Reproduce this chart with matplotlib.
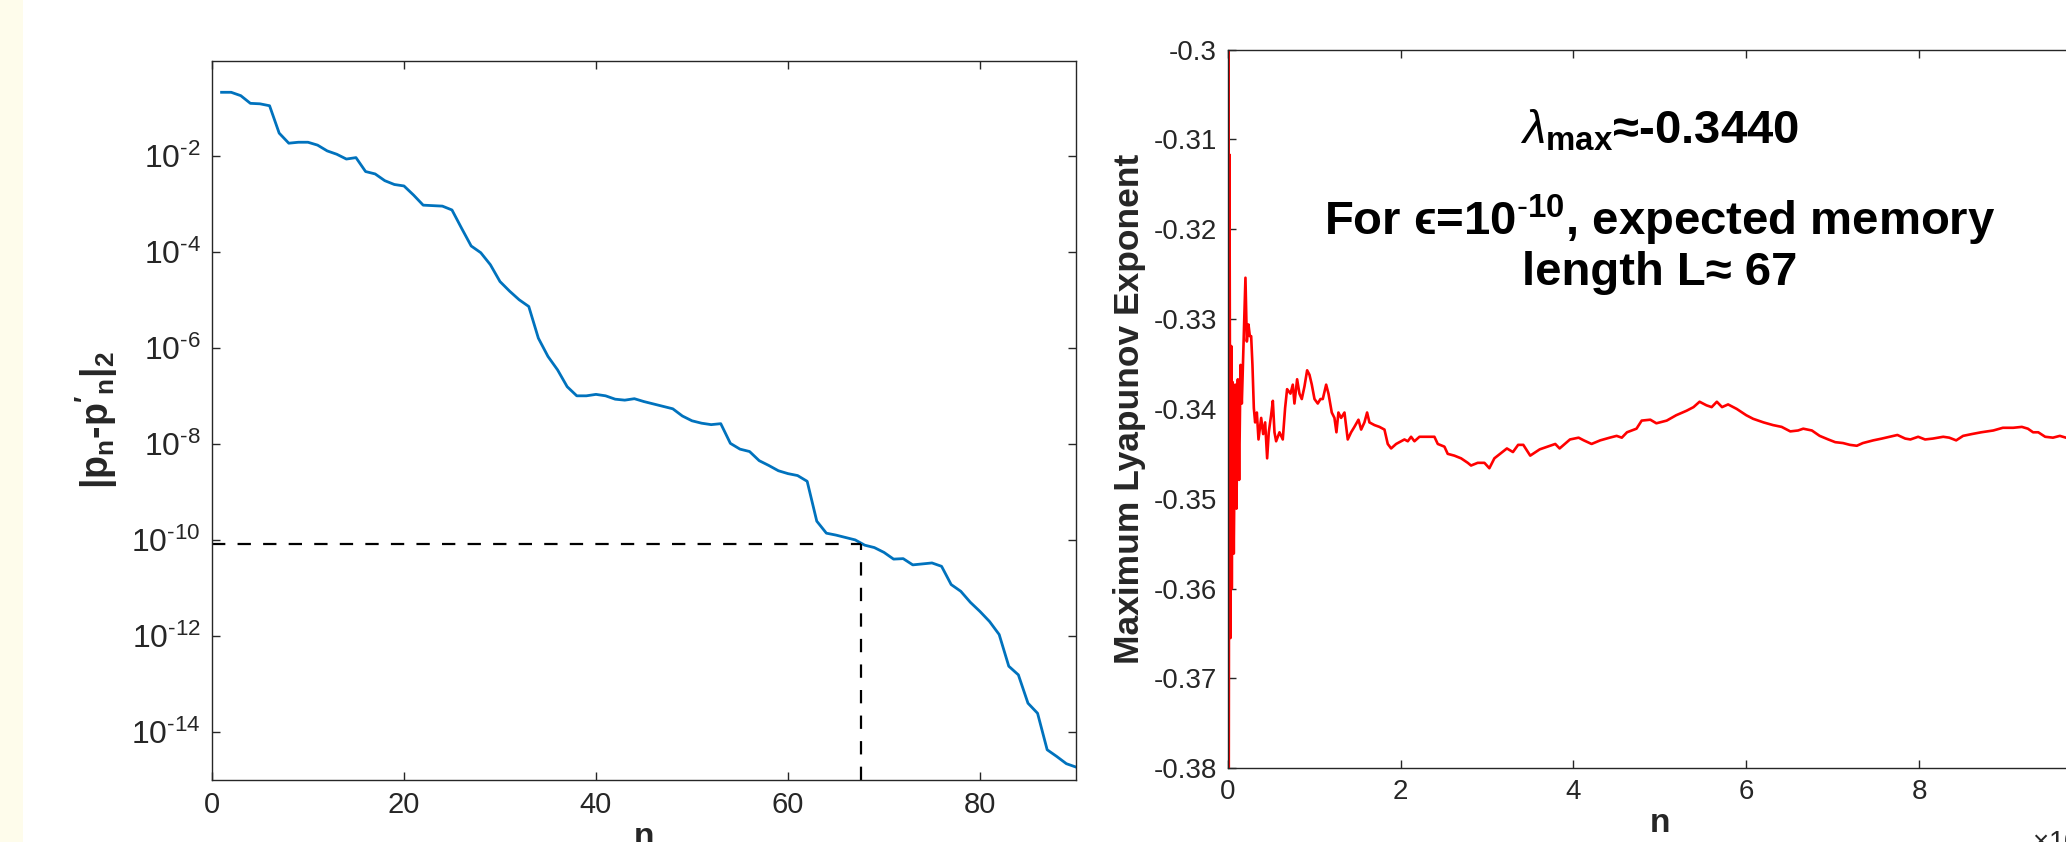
import numpy as np
import matplotlib
matplotlib.use("Agg")
import matplotlib.pyplot as plt
from matplotlib.ticker import FixedLocator, FuncFormatter, NullLocator
from matplotlib.patches import Rectangle

plt.rcParams['font.family'] = ['Liberation Sans', 'DejaVu Sans']
plt.rcParams['mathtext.fontset'] = 'custom'
plt.rcParams['mathtext.rm'] = 'Liberation Sans'
plt.rcParams['mathtext.it'] = 'Liberation Sans:italic'
plt.rcParams['mathtext.bf'] = 'Liberation Sans:bold'
plt.rcParams['axes.unicode_minus'] = False

# left panel: distance between the two trajectories (log10 of the norm)
err_n = list(range(1, 91))
err_log10 = [-0.68, -0.68, -0.75, -0.91, -0.92, -0.96, -1.53, -1.74, -1.72, -1.72,
             -1.78, -1.90, -1.97, -2.07, -2.04, -2.33, -2.38, -2.52, -2.60, -2.63,
             -2.82, -3.03, -3.04, -3.05, -3.13, -3.51, -3.88, -4.02, -4.27, -4.62,
             -4.82, -5.00, -5.14, -5.80, -6.18, -6.46, -6.81, -7.00, -7.00, -6.97,
             -7.00, -7.07, -7.09, -7.06, -7.12, -7.17, -7.22, -7.27, -7.42, -7.52,
             -7.57, -7.60, -7.58, -7.99, -8.11, -8.16, -8.35, -8.45, -8.56, -8.62,
             -8.66, -8.78, -9.61, -9.86, -9.90, -9.95, -10.00, -10.11, -10.16, -10.26,
             -10.40, -10.39, -10.52, -10.50, -10.48, -10.55, -10.93, -11.07, -11.30, -11.49,
             -11.70, -11.97, -12.63, -12.81, -13.40, -13.61, -14.37, -14.51, -14.66, -14.73]
eps_level = 8.1e-11
mem_len = 67.6

# right panel: running estimate of the max Lyapunov exponent (n in units of 1e4)
lyap_n = [0.000, 0.004, 0.010, 0.019, 0.031, 0.040, 0.046, 0.055, 0.069, 0.085,
          0.100, 0.116, 0.131, 0.147, 0.162, 0.185, 0.204, 0.220, 0.239, 0.255,
          0.270, 0.285, 0.301, 0.316, 0.336, 0.355, 0.386, 0.409, 0.432, 0.455,
          0.474, 0.501, 0.521, 0.540, 0.559, 0.598, 0.636, 0.663, 0.686, 0.725,
          0.752, 0.771, 0.802, 0.829, 0.856, 0.887, 0.918, 0.945, 0.972, 1.003,
          1.041, 1.072, 1.099, 1.138, 1.165, 1.203, 1.234, 1.257, 1.280, 1.311,
          1.350, 1.388, 1.427, 1.465, 1.512, 1.543, 1.581, 1.612, 1.639, 1.697,
          1.755, 1.813, 1.851, 1.890, 1.948, 2.005, 2.044, 2.083, 2.121, 2.160,
          2.218, 2.275, 2.391, 2.430, 2.507, 2.545, 2.622, 2.700, 2.777, 2.815,
          2.892, 2.970, 3.027, 3.085, 3.23, 3.30, 3.36, 3.42, 3.50, 3.61,
          3.73, 3.79, 3.84, 3.96, 4.06, 4.12, 4.21, 4.31, 4.42, 4.50,
          4.56, 4.62, 4.73, 4.79, 4.89, 4.96, 5.08, 5.19, 5.31, 5.39,
          5.46, 5.54, 5.60, 5.66, 5.72, 5.79, 5.89, 6.00, 6.08, 6.20,
          6.31, 6.41, 6.51, 6.60, 6.66, 6.76, 6.85, 6.95, 7.03, 7.12,
          7.20, 7.28, 7.35, 7.47, 7.57, 7.66, 7.75, 7.84, 7.90, 7.99,
          8.07, 8.16, 8.28, 8.35, 8.43, 8.51, 8.61, 8.72, 8.86, 8.97,
          9.09, 9.19, 9.26, 9.32, 9.38, 9.46, 9.55, 9.63, 9.70, 10.0]
lyap_val = [-0.420, -0.290, -0.390, -0.3117, -0.3655, -0.3330, -0.3600, -0.3370, -0.3561, -0.3373,
            -0.3511, -0.3367, -0.3479, -0.3351, -0.3394, -0.3319, -0.3254, -0.3325, -0.3306, -0.3319,
            -0.3319, -0.3351, -0.3399, -0.3415, -0.3404, -0.3434, -0.3410, -0.3428, -0.3415, -0.3455,
            -0.3426, -0.3407, -0.3391, -0.3426, -0.3436, -0.3426, -0.3434, -0.3399, -0.3378, -0.3383,
            -0.3373, -0.3394, -0.3367, -0.3383, -0.3389, -0.3375, -0.3357, -0.3362, -0.3373, -0.3389,
            -0.3394, -0.3389, -0.3389, -0.3373, -0.3383, -0.3404, -0.3410, -0.3426, -0.3404, -0.3410,
            -0.3404, -0.3434, -0.3426, -0.3420, -0.3412, -0.3423, -0.3415, -0.3404, -0.3415, -0.3418,
            -0.3420, -0.3423, -0.3439, -0.3444, -0.3439, -0.3436, -0.3434, -0.3436, -0.3431, -0.3436,
            -0.3431, -0.3431, -0.3431, -0.3439, -0.3442, -0.3450, -0.3452, -0.3455, -0.3460, -0.3463,
            -0.3460, -0.3460, -0.3466, -0.3455, -0.3444, -0.3448, -0.3440, -0.3440, -0.3452, -0.3445,
            -0.3441, -0.3439, -0.3444, -0.3434, -0.3432, -0.3435, -0.3439, -0.3435, -0.3432, -0.3430,
            -0.3432, -0.3426, -0.3422, -0.3413, -0.3412, -0.3416, -0.3413, -0.3407, -0.3402, -0.3398,
            -0.3392, -0.3396, -0.3398, -0.3392, -0.3398, -0.3395, -0.3400, -0.3407, -0.3411, -0.3415,
            -0.3418, -0.3420, -0.3425, -0.3424, -0.3422, -0.3424, -0.3430, -0.3434, -0.3437, -0.3438,
            -0.3440, -0.3441, -0.3438, -0.3435, -0.3433, -0.3431, -0.3429, -0.3433, -0.3434, -0.3431,
            -0.3434, -0.3433, -0.3431, -0.3432, -0.3435, -0.3430, -0.3428, -0.3426, -0.3424, -0.3421,
            -0.3421, -0.3420, -0.3422, -0.3426, -0.3426, -0.3431, -0.3432, -0.3430, -0.3432, -0.3435]

axis_col = '#262626'

fig = plt.figure(figsize=(20.66, 8.42), dpi=100)
fig.patches.append(Rectangle((0, 0), 23 / 2066, 1, transform=fig.transFigure,
                             facecolor='#FEFCEB', edgecolor='none', zorder=-1))


def style_axes(ax, size):
    ax.tick_params(direction='in', top=True, right=True, length=6, width=1.0,
                   colors=axis_col, labelsize=size, pad=8)
    for sp in ax.spines.values():
        sp.set_color(axis_col)
        sp.set_linewidth(1.0)


# ---- left: error decay on log scale ----
ax1 = fig.add_axes([0.1026, 0.0736, 0.4182, 0.8543])
ax1.semilogy(err_n, 10.0 ** np.array(err_log10), color='#0072BD', lw=2.0)
ax1.plot([0, mem_len], [eps_level, eps_level], color='black', lw=1.6, dashes=(6, 5.5))
ax1.plot([mem_len, mem_len], [1e-15, eps_level], color='black', lw=1.6, dashes=(6, 5.5))
ax1.set_xlim(0, 90)
ax1.set_ylim(1e-15, 0.95)
ax1.xaxis.set_major_locator(FixedLocator([0, 20, 40, 60, 80]))
ax1.yaxis.set_major_locator(FixedLocator([1e-14, 1e-12, 1e-10, 1e-8, 1e-6, 1e-4, 1e-2]))
ax1.yaxis.set_minor_locator(NullLocator())
ax1.yaxis.set_major_formatter(
    FuncFormatter(lambda v, p: r'$\mathdefault{10^{\text{-}%d}}$' % abs(round(np.log10(v)))))
style_axes(ax1, 21)
ax1.tick_params(axis='y', labelsize=23)
ax1.set_ylabel(r"$\mathbf{|p_n}$-$\mathbf{p'_n|_2}$", fontsize=27, fontweight='bold',
               color=axis_col, labelpad=8)
ax1.set_xlabel('n', fontsize=24, fontweight='bold', color=axis_col, labelpad=2)

# ---- right: Lyapunov exponent estimate ----
ax2 = fig.add_axes([0.5943, 0.0875, 0.4182, 0.8537])
ax2.plot(lyap_n, lyap_val, color='red', lw=1.9)
ax2.set_xlim(0, 10)
ax2.set_ylim(-0.38, -0.30)
ax2.xaxis.set_major_locator(FixedLocator([0, 2, 4, 6, 8, 10]))
ax2.yaxis.set_major_locator(FixedLocator(np.round(np.arange(-0.38, -0.295, 0.01), 2)))
ax2.yaxis.set_major_formatter(FuncFormatter(lambda v, p: '%g' % v))
style_axes(ax2, 20)
ax2.set_ylabel('Maximum Lyapunov Exponent', fontsize=25.5, fontweight='bold',
               color=axis_col, labelpad=5)
ax2.set_xlabel('n', fontsize=24, fontweight='bold', color=axis_col, labelpad=2)
ax2.text(1.0, -0.085, r'$\times$10$^{4}$', transform=ax2.transAxes, ha='right', va='top',
         fontsize=20, color=axis_col)

ann_kw = dict(transform=ax2.transAxes, ha='center', va='baseline', fontsize=34,
              fontweight='bold', color='black')
ax2.text(0.5, 1 - (143 - 49.5) / 718.5, r'$\lambda_{\mathbf{max}}$≈-0.3440', **ann_kw)
ax2.text(0.5, 1 - (235 - 49.5) / 718.5,
         r'For ϵ=10$^{\mathbf{\text{-}10}}$, expected memory', **ann_kw)
ax2.text(0.5, 1 - (285 - 49.5) / 718.5, 'length L≈ 67', **ann_kw)

fig.savefig('out.png', dpi=100)
